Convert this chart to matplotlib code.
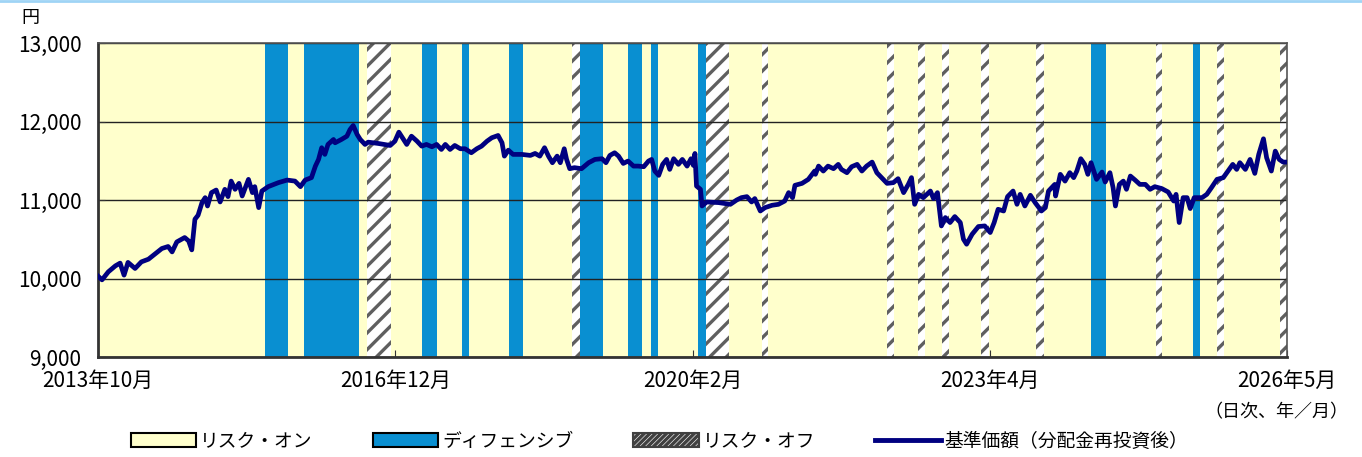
import matplotlib
matplotlib.use('Agg')
import matplotlib.pyplot as plt
from matplotlib.patches import Patch
from matplotlib.lines import Line2D
import numpy as np

plt.rcParams['font.family'] = ['Noto Sans CJK JP', 'DejaVu Sans']
plt.rcParams['hatch.linewidth'] = 2.4

# x = months elapsed since 2013年10月 (axis runs 0..151)
tick_labels = ['2013年10月', '2016年12月', '2020年2月', '2023年4月', '2026年5月']
x_end = 151

# regime periods (start, end)
defensive = [(21.2, 24.1), (26.2, 33.1), (41.2, 43.1), (46.2, 47.1), (52.2, 54.0),
             (61.2, 64.1), (67.3, 69.1), (70.2, 71.1), (76.2, 77.2), (126.1, 128.0),
             (139.1, 140.0)]
risk_off = [(34.2, 37.2), (60.2, 61.2), (77.2, 80.1), (84.3, 85.1), (100.2, 101.1),
            (104.1, 105.0), (107.2, 108.1), (112.1, 113.1), (119.1, 120.1),
            (134.3, 135.1), (142.1, 143.0), (150.1, 151.0)]

# 基準価額 (分配金再投資後)
nav_x = [0.0, 0.5, 1.3, 2.2, 2.8, 3.3, 3.8, 4.7, 5.5, 6.4, 7.2, 8.1, 8.9, 9.4, 10.0,
         11.0, 11.5, 11.9, 12.3, 12.7, 13.2, 13.6, 13.9, 14.4, 15.0, 15.5, 16.1, 16.5,
         16.9, 17.4, 17.9, 18.3, 19.1, 19.6, 19.9, 20.4, 20.8, 21.6, 22.9, 24.0, 25.0,
         25.7, 26.3, 27.1, 27.6, 28.0, 28.4, 28.8, 29.2, 29.9, 30.1, 30.9, 31.6, 32.0,
         32.4, 32.9, 33.3, 33.9, 34.3, 35.6, 37.1, 37.7, 38.2, 38.8, 39.2, 39.8, 40.5,
         41.1, 41.7, 42.4, 43.0, 43.6, 44.1, 44.7, 45.3, 46.0, 46.6, 47.4, 48.1, 48.7,
         49.4, 50.0, 50.8, 51.3, 51.6, 52.1, 52.7, 53.8, 54.9, 55.5, 56.1, 56.7, 57.2,
         57.7, 58.3, 58.7, 59.2, 59.5, 59.9, 60.5, 61.4, 62.3, 63.1, 64.0, 64.5, 65.0,
         65.6, 66.1, 66.7, 67.3, 68.0, 68.6, 69.3, 69.9, 70.3, 70.7, 71.2, 71.7, 72.2,
         72.6, 73.1, 73.7, 74.2, 74.8, 75.3, 75.6, 75.8, 76.0, 76.5, 76.7, 77.3, 78.8,
         80.3, 81.1, 81.7, 82.4, 83.0, 83.4, 84.1, 84.7, 85.6, 86.4, 87.2, 87.7, 88.2,
         88.5, 89.4, 90.2, 91.0, 91.1, 91.5, 92.1, 92.7, 93.4, 94.0, 94.4, 95.1, 95.7,
         96.4, 97.0, 97.6, 98.3, 98.9, 99.5, 100.2, 101.0, 101.6, 102.3, 102.9, 103.3,
         103.7, 104.2, 104.8, 105.7, 106.1, 106.6, 107.1, 107.6, 108.2, 108.8, 109.5,
         109.9, 110.3, 111.0, 111.8, 112.6, 113.3, 113.8, 114.3, 115.0, 115.5, 116.2,
         116.7, 117.1, 117.7, 118.4, 119.0, 119.8, 120.3, 120.7, 121.5, 121.6, 122.2,
         122.8, 123.4, 123.9, 124.3, 124.8, 125.3, 125.7, 126.1, 126.8, 127.5, 127.9,
         128.5, 128.9, 129.2, 129.7, 130.2, 130.6, 131.1, 131.7, 132.3, 133.0, 133.6,
         134.2, 135.1, 135.9, 136.6, 136.9, 137.3, 137.8, 138.3, 138.7, 139.2, 140.2,
         140.8, 141.4, 142.1, 142.9, 143.5, 144.1, 144.6, 145.0, 145.7, 146.3, 146.9,
         147.4, 148.0, 148.4, 149.0, 149.5, 150.0, 150.5, 151.0]
nav_y = [10030, 9983, 10085, 10161, 10196, 10043, 10205, 10128, 10212, 10246, 10310,
         10382, 10408, 10339, 10466, 10522, 10479, 10365, 10755, 10806, 10967, 11030,
         10924, 11094, 11127, 10975, 11136, 11043, 11241, 11136, 11212, 11051, 11263,
         11094, 11170, 10903, 11114, 11170, 11221, 11254, 11241, 11170, 11254, 11285,
         11432, 11517, 11666, 11581, 11708, 11771, 11729, 11771, 11813, 11898, 11949,
         11835, 11771, 11708, 11737, 11720, 11695, 11750, 11864, 11771, 11708, 11813,
         11750, 11686, 11708, 11678, 11708, 11644, 11708, 11644, 11695, 11653, 11653,
         11602, 11653, 11686, 11750, 11793, 11822, 11729, 11559, 11635, 11581, 11581,
         11568, 11593, 11559, 11666, 11559, 11475, 11559, 11475, 11653, 11517, 11399,
         11412, 11399, 11475, 11517, 11526, 11475, 11568, 11602, 11559, 11466, 11496,
         11432, 11432, 11424, 11496, 11517, 11369, 11314, 11454, 11517, 11390, 11526,
         11454, 11517, 11432, 11526, 11441, 11593, 11178, 11136, 10924, 10975, 10967,
         10945, 11000, 11030, 11043, 10975, 11018, 10860, 10903, 10933, 10945, 10987,
         11094, 11030, 11187, 11212, 11263, 11369, 11327, 11432, 11369, 11432, 11399,
         11454, 11390, 11348, 11424, 11454, 11369, 11432, 11483, 11348, 11285, 11212,
         11221, 11272, 11094, 11199, 11285, 10945, 11072, 11030, 11114, 11018, 11094,
         10670, 10776, 10713, 10789, 10713, 10501, 10437, 10564, 10662, 10670, 10586,
         10713, 10882, 10860, 11043, 11114, 10945, 11072, 10924, 11060, 10967, 10860,
         10903, 11114, 11199, 11051, 11327, 11241, 11348, 11285, 11369, 11526, 11454,
         11327, 11475, 11263, 11356, 11229, 11348, 11158, 10924, 11199, 11241, 11136,
         11305, 11254, 11199, 11199, 11136, 11170, 11145, 11102, 10987, 11072, 10713,
         11030, 11030, 10891, 11030, 11030, 11072, 11158, 11263, 11285, 11369, 11454,
         11390, 11475, 11390, 11517, 11339, 11581, 11780, 11539, 11369, 11623, 11517,
         11483, 11483]

yellow = '#FFFFCC'
blue = '#098FD1'
hatch_col = '#5f5f5f'
navy = '#000080'

fig = plt.figure(figsize=(13.62, 4.57), dpi=100)
ax = fig.add_axes([0.0720, 0.2188, 0.8730, 0.6871])
ax.set_facecolor(yellow)

for s, e in defensive:
    ax.axvspan(s, e, facecolor=blue, edgecolor='none', lw=0, zorder=1)
for s, e in risk_off:
    ax.axvspan(s, e, facecolor='white', edgecolor=hatch_col, hatch='//', lw=0, zorder=1)

ax.plot(nav_x, nav_y, color=navy, lw=3.4, zorder=3, solid_joinstyle='round')

ax.set_xlim(0, x_end)
ax.set_ylim(9000, 13000)
ax.set_yticks(np.arange(9000, 13001, 1000))
ax.set_yticklabels([f'{v:,}' for v in range(9000, 13001, 1000)])
ax.set_xticks(np.linspace(0, x_end, len(tick_labels)))
ax.set_xticklabels(tick_labels)
ax.tick_params(axis='both', labelsize=15, direction='in', length=5, color='#333333')
ax.tick_params(axis='y', pad=12)
ax.tick_params(axis='x', pad=9)

ax.set_axisbelow('line')
ax.yaxis.grid(True, color='#222222', lw=1.0)

for side in ['left', 'bottom']:
    ax.spines[side].set_linewidth(2.0)
    ax.spines[side].set_color('#333333')
for side in ['top', 'right']:
    ax.spines[side].set_linewidth(1.2)
    ax.spines[side].set_color('#555555')

fig.text(0.016, 0.96, '円', fontsize=13, ha='left', va='center')
fig.text(0.990, 0.097, '（日次、年／月）', fontsize=13, ha='right', va='center')

# thin light-blue rule at the top of the image
fig.add_artist(Line2D([0, 1], [0.998, 0.998], color='#9fd4f5', lw=2.0,
                      transform=fig.transFigure))

handles = [Patch(facecolor=yellow, edgecolor='black', lw=1.5),
           Patch(facecolor=blue, edgecolor='black', lw=1.5),
           Patch(facecolor='white', edgecolor='#404040', hatch='//////', lw=1.5),
           Line2D([0], [0], color=navy, lw=3.5)]
labels = ['リスク・オン', 'ディフェンシブ', 'リスク・オフ', '基準価額（分配金再投資後）']
fig.legend(handles, labels, loc='center left', bbox_to_anchor=(0.096, 0.035),
           ncol=4, frameon=False, fontsize=13.5, handlelength=3.5, handleheight=0.85,
           handletextpad=0.2, columnspacing=3.2, borderpad=0, borderaxespad=0)

fig.savefig('out.png', dpi=100)
